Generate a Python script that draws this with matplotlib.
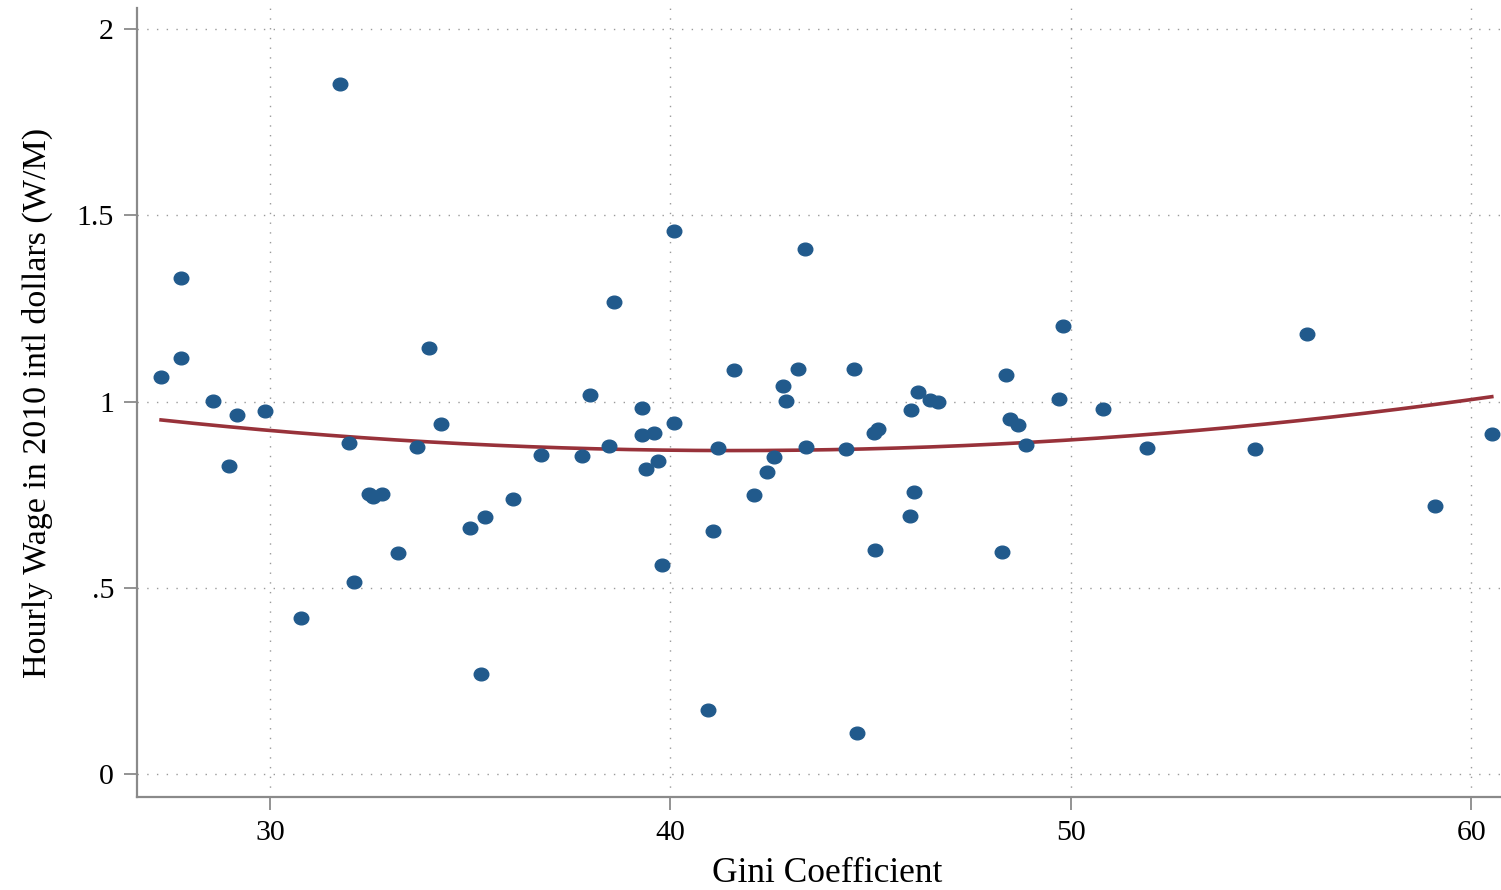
import numpy as np
import matplotlib
matplotlib.use("Agg")
import matplotlib.pyplot as plt
from matplotlib.path import Path
from matplotlib.transforms import Affine2D

# Gini coefficient vs hourly wage (W/M)
gini = [27.28, 27.78, 27.78, 28.58, 28.98, 29.18, 29.88, 30.78, 31.75, 31.97,
        32.09, 32.48, 32.58, 32.80, 33.20, 33.67, 33.97, 34.27, 34.99, 35.27,
        35.38, 36.08, 36.77, 37.80, 38.00, 38.47, 38.58, 39.29, 39.28, 39.38,
        39.59, 39.70, 39.79, 40.10, 40.10, 40.95, 41.07, 41.19, 41.58, 42.08,
        42.40, 42.59, 42.80, 42.88, 43.19, 43.35, 43.38, 44.38, 44.58, 44.67,
        45.10, 45.09, 45.19, 45.99, 46.00, 46.07, 46.19, 46.47, 46.68, 48.29,
        48.38, 48.49, 48.69, 48.89, 49.70, 49.80, 50.79, 51.89, 54.60, 55.89,
        59.08, 60.51]
wage = [1.066, 1.332, 1.118, 1.003, 0.828, 0.965, 0.974, 0.421, 1.853, 0.889,
        0.516, 0.752, 0.745, 0.752, 0.594, 0.879, 1.143, 0.941, 0.661, 0.269,
        0.690, 0.738, 0.858, 0.855, 1.018, 0.881, 1.269, 0.983, 0.912, 0.820,
        0.917, 0.840, 0.561, 0.942, 1.459, 0.173, 0.653, 0.876, 1.085, 0.749,
        0.811, 0.851, 1.043, 1.003, 1.087, 1.410, 0.879, 0.873, 1.089, 0.111,
        0.602, 0.915, 0.927, 0.694, 0.978, 0.759, 1.026, 1.005, 0.999, 0.596,
        1.073, 0.954, 0.937, 0.883, 1.008, 1.204, 0.980, 0.876, 0.874, 1.181,
        0.719, 0.914]

xticks = [30, 40, 50, 60]
yticks = [0, 0.5, 1, 1.5, 2]
ylabels = ["0", ".5", "1", "1.5", "2"]

plt.rcParams['font.family'] = ['Liberation Serif', 'DejaVu Serif']

fig = plt.figure(figsize=(15.01, 8.9), dpi=100)
ax = fig.add_axes([0.0913, 0.1048, 0.9087, 0.8859])

# quadratic fit
x = np.array(gini)
y = np.array(wage)
coef = np.polyfit(x, y, 2)
xs = np.linspace(x.min(), x.max(), 200)
ax.plot(xs, np.polyval(coef, xs), color='#98323a', lw=2.6, zorder=2)

ell = Path.unit_circle().transformed(Affine2D().scale(1.15, 1.0))
ax.plot(gini, wage, ls='none', marker=ell, ms=10.5, color='#215a8c',
        mec='#215a8c', zorder=3)

ax.set_xlim(26.68, 60.74)
ax.set_ylim(-0.06, 2.056)
ax.set_xticks(xticks)
ax.set_yticks(yticks)
ax.set_yticklabels(ylabels)

ax.grid(True, color='#9a9a9a', lw=1.0, ls=(0, (1, 6)))
ax.set_axisbelow(True)

for s in ['top', 'right']:
    ax.spines[s].set_visible(False)
for s in ['left', 'bottom']:
    ax.spines[s].set_color('#8a8a8a')
    ax.spines[s].set_linewidth(1.6)

ax.tick_params(axis='both', direction='out', length=9.5, width=1.3,
               color='#8a8a8a', labelsize=21.5, pad=7)

ax.set_xlabel('Gini Coefficient', fontsize=25.5, va='baseline')
ax.xaxis.set_label_coords(0.506, -0.108)
ax.set_ylabel('Hourly Wage in 2010 intl dollars (W/M)', fontsize=24.5, labelpad=17)

fig.savefig('out.png', dpi=100)
